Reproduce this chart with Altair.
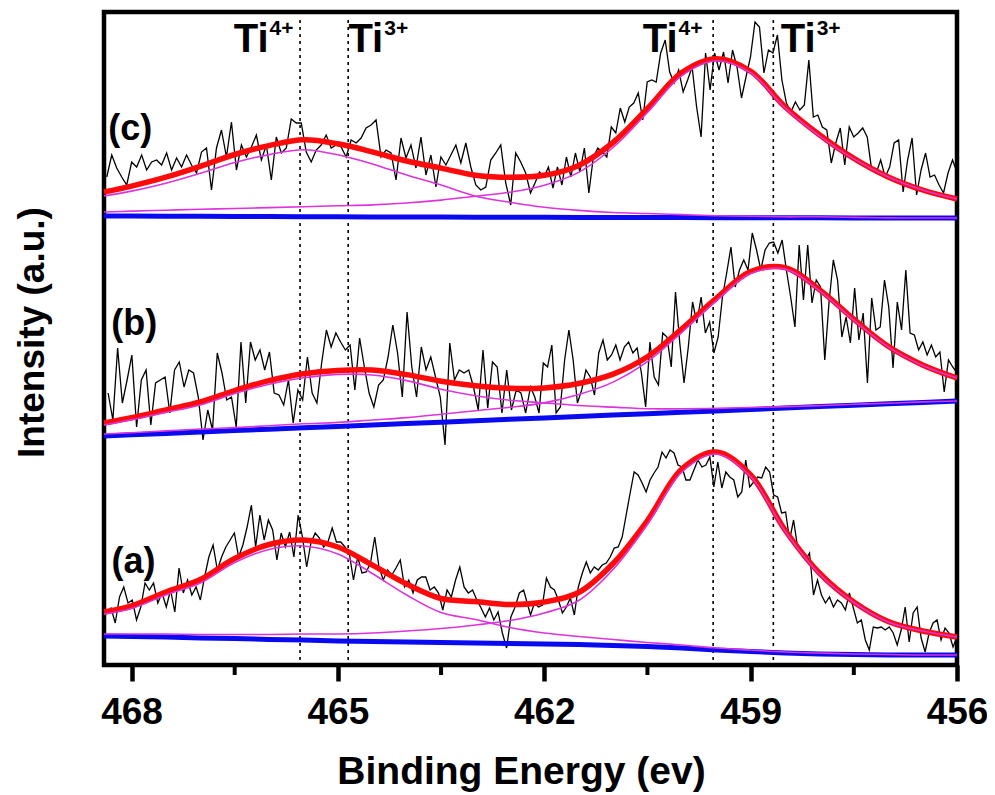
import altair as alt
import numpy as np
import pandas as pd

FONT_NARROW = "Liberation Sans Narrow, Liberation Sans, Arial, sans-serif"
FONT = "Liberation Sans, Arial, sans-serif"

# ---------------- measured spectra (intensity, a.u.) ----------------
# each panel was read in two scan segments: [start eV, end eV] + values
c_left_range = [468.36, 462.27]
c_left = [488, 510, 497, 488, 480, 503, 498, 510, 495, 503,
          505, 500, 512, 495, 507, 498, 510, 500, 492, 513,
          517, 475, 517, 535, 508, 543, 495, 520, 508, 518,
          530, 505, 520, 485, 528, 512, 517, 546, 542, 542,
          513, 503, 515, 520, 530, 517, 520, 518, 508, 525,
          522, 527, 537, 540, 545, 508, 515, 512, 485, 527,
          507, 520, 497, 528, 490, 510, 478, 508, 500, 510,
          520, 502, 522, 498, 480, 475, 478, 505, 512, 520,
          482, 460, 512, 503, 492]
c_right_range = [462.20, 456.0]
c_right = [472, 482, 493, 488, 498, 477, 498, 480, 508, 488,
           512, 493, 517, 472, 508, 517, 513, 508, 538, 532,
           557, 543, 558, 562, 572, 545, 583, 585, 583, 612,
           625, 593, 582, 595, 573, 585, 598, 558, 528, 612,
           575, 612, 595, 613, 582, 615, 598, 567, 588, 608,
           643, 638, 592, 615, 612, 630, 585, 562, 553, 563,
           555, 560, 605, 548, 550, 538, 535, 502, 522, 537,
           500, 538, 528, 532, 537, 528, 495, 492, 505, 488,
           498, 522, 525, 473, 505, 527, 470, 495, 512, 488,
           490, 480, 472, 492, 505, 493]

b_left_range = [468.34, 462.27]
b_left = [272, 245, 317, 262, 285, 310, 238, 285, 295, 240,
          282, 285, 288, 252, 295, 303, 278, 295, 292, 268,
          225, 255, 235, 312, 292, 265, 268, 238, 323, 262,
          323, 305, 315, 295, 313, 272, 270, 260, 285, 242,
          275, 265, 308, 272, 262, 302, 335, 318, 332, 323,
          315, 320, 275, 327, 298, 272, 258, 280, 285, 308,
          340, 312, 268, 353, 298, 268, 318, 295, 308, 288,
          268, 220, 322, 285, 295, 292, 295, 278, 255, 315,
          257, 303, 298, 252, 295, 255, 275, 272, 252]
b_right_range = [462.20, 456.0]
b_right = [278, 268, 252, 302, 298, 320, 252, 258, 305, 335,
           305, 262, 275, 295, 288, 270, 312, 325, 305, 310,
           320, 305, 318, 323, 312, 317, 292, 258, 323, 288,
           280, 332, 328, 298, 373, 322, 282, 318, 363, 342,
           368, 332, 343, 312, 328, 368, 392, 418, 378, 395,
           405, 395, 432, 415, 395, 415, 422, 423, 412, 425,
           395, 368, 338, 420, 365, 420, 362, 385, 378, 305,
           363, 405, 385, 328, 348, 322, 377, 325, 352, 282,
           367, 335, 338, 385, 358, 297, 363, 335, 395, 332,
           330, 315, 323, 310, 320, 308, 313, 273, 305, 298, 292]

a_left_range = [468.36, 462.30]
a_left = [52, 57, 42, 68, 78, 62, 65, 45, 58, 82,
          75, 82, 62, 72, 58, 75, 53, 97, 72, 85,
          70, 78, 65, 88, 108, 120, 95, 108, 118, 125,
          132, 108, 120, 138, 160, 118, 150, 125, 145, 135,
          105, 132, 118, 133, 108, 150, 128, 98, 122, 132,
          127, 118, 123, 137, 123, 123, 118, 112, 85, 108,
          92, 93, 102, 128, 98, 85, 95, 90, 97, 105,
          78, 85, 72, 85, 88, 88, 75, 78, 72, 55,
          75, 68, 85, 98, 78, 72, 75, 65, 57, 48,
          57, 45, 53, 32, 17, 48, 58, 72, 75]
a_right_range = [462.20, 456.0]
a_right = [50, 62, 58, 60, 87, 78, 75, 65, 52, 58,
           67, 50, 78, 92, 103, 92, 98, 95, 100, 102,
           108, 117, 118, 128, 150, 172, 193, 190, 182, 173,
           185, 192, 198, 213, 207, 215, 212, 200, 198, 185,
           185, 195, 205, 198, 200, 208, 178, 203, 177, 193,
           188, 185, 168, 173, 205, 178, 183, 188, 187, 198,
           193, 170, 168, 152, 153, 125, 145, 118, 110, 105,
           112, 70, 85, 70, 62, 68, 58, 65, 62, 55,
           72, 57, 42, 45, 25, 15, 38, 37, 38, 35,
           38, 32, 20, 35, 58, 23, 52, 58, 27, 13,
           32, 42, 45, 25, 37, 32, 18, 28]

# ---------------- fitted curves (read on a common energy grid) ----------------
fit_energy = [468.4, 468.0, 467.5, 467.0, 466.5, 466.0, 465.5, 465.0, 464.5, 464.0,
              463.5, 463.0, 462.5, 462.0, 461.5, 461.0, 460.5, 460.0, 459.5, 459.0,
              458.5, 458.0, 457.5, 457.0, 456.5, 456.0]

a_base = [29, 28.5, 28, 27, 26.5, 25.5, 25, 24, 23.5, 23, 22.5, 22, 21.5, 21, 20.5,
          19.5, 18.5, 17, 15, 13.5, 12, 11, 10.5, 10, 10, 10]
a_peak1 = [22, 28, 42, 55, 76, 90, 94, 87, 68, 47, 30, 23.5, 16, 11, 8, 6, 4, 3, 2,
           1.5, 1, 1, 0.5, 0.5, 0, 0]
a_peak2 = [2, 2.5, 3, 3.5, 4, 5, 6, 7, 8.5, 11, 14, 18, 23, 31, 44, 76, 122, 176, 196,
           175, 122, 80, 52, 33, 24, 18]

b_base = [229.0, 230.2, 231.6, 233.0, 234.4, 235.8, 237.2, 238.6, 240.0, 241.4, 242.8,
          244.3, 245.7, 247.1, 248.5, 249.9, 251.3, 252.7, 254.1, 255.5, 256.9, 258.4,
          259.8, 261.2, 262.6, 264.0]
b_peak1 = [11, 15, 21, 27, 37, 45, 50, 52, 50, 43, 33, 25, 19, 15, 11, 8, 5, 3.5, 2.5,
           2, 1.5, 1, 1, 0.5, 0.5, 0]
b_peak2 = [2, 2, 2.5, 3, 3, 3.5, 4, 4, 5, 6, 8, 10, 12, 15, 22, 33, 52, 80, 110, 136,
           139, 116, 85, 57, 37, 23]

c_base = [449.0, 448.9, 448.8, 448.7, 448.5, 448.4, 448.3, 448.2, 448.1, 448.0, 447.9,
          447.8, 447.7, 447.7, 447.6, 447.5, 447.5, 447.4, 447.3, 447.3, 447.2, 447.2,
          447.1, 447.1, 447.0, 447.0]
c_peak1 = [20, 25, 33, 43, 54, 62, 67, 62, 53, 42, 32, 21, 15, 10, 7, 5, 4, 3, 2, 1.5,
           1, 1, 0.5, 0, 0, 0]
c_peak2 = [4, 5, 6, 7, 8, 9, 10, 11, 12, 14, 17, 21, 25, 32, 45, 70, 105, 142, 157, 145,
           110, 82, 59, 41, 28, 19]

# ---------------- annotations ----------------
ref_lines_ev = [465.55, 464.85, 459.545, 458.67]
minor_ticks_ev = [466.5, 463.5, 460.5, 457.5]
major_ticks_ev = [468, 465, 462, 459, 456]

panel_names = ["(a)", "(b)", "(c)"]
panel_label_ev = [467.97, 467.96, 468.02]
panel_label_y = [92, 330, 525]

ion_anchor_ev = [466.007, 464.341, 460.063, 458.055]
ion_charge = ["4+", "3+", "4+", "3+"]
ion_y = 613
charge_y = 630

# ---------------- build tables ----------------
spec_rows = []
for panel, segs in {"a": [(a_left_range, a_left), (a_right_range, a_right)],
                    "b": [(b_left_range, b_left), (b_right_range, b_right)],
                    "c": [(c_left_range, c_left), (c_right_range, c_right)]}.items():
    for rng, vals in segs:
        grid = np.linspace(rng[0], rng[1], len(vals))
        for e, v in zip(grid, vals):
            spec_rows.append({"panel": panel, "energy": float(e), "intensity": v})
spec_df = pd.DataFrame(spec_rows)

fit_rows = []
for panel, base, p1, p2 in [("a", a_base, a_peak1, a_peak2),
                            ("b", b_base, b_peak1, b_peak2),
                            ("c", c_base, c_peak1, c_peak2)]:
    for e, b, h1, h2 in zip(fit_energy, base, p1, p2):
        fit_rows.append({"key": panel + "base", "series": "baseline", "energy": e, "intensity": b})
        fit_rows.append({"key": panel + "p1", "series": "peak", "energy": e, "intensity": b + h1})
        fit_rows.append({"key": panel + "p2", "series": "peak", "energy": e, "intensity": b + h2})
        fit_rows.append({"key": panel + "env", "series": "envelope", "energy": e, "intensity": b + h1 + h2})
fit_df = pd.DataFrame(fit_rows)

vline_df = pd.DataFrame({"energy": ref_lines_ev, "intensity": [645] * 4, "bottom": [0] * 4})
minor_df = pd.DataFrame({"energy": minor_ticks_ev, "intensity": [0] * 4, "bottom": [-10] * 4})
panel_df = pd.DataFrame({"label": panel_names, "energy": panel_label_ev, "intensity": panel_label_y})
ion_df = pd.DataFrame({"energy": ion_anchor_ev, "ion": ["Ti"] * 4, "charge": ion_charge,
                       "intensity": [ion_y] * 4, "cy": [charge_y] * 4})

# ---------------- encodings ----------------
xscale = alt.Scale(domain=[456, 468.4], reverse=True, nice=False, zero=False)
yscale = alt.Scale(domain=[0, 653], nice=False, zero=False)

xaxis = alt.Axis(values=major_ticks_ev, format="d", tickSize=16, tickWidth=4.5,
                 tickColor="black", domain=False, grid=False, labelFont=FONT_NARROW,
                 labelFontSize=37, labelFontWeight="bold", labelColor="black",
                 labelPadding=13, labelFlush=False, labelOverlap=False,
                 title="Binding Energy (ev)", titleFont=FONT, titleFontSize=39,
                 titleFontWeight="bold", titleColor="black", titleX=417, titleY=118,
                 titleBaseline="alphabetic")
yaxis = alt.Axis(ticks=False, labels=False, domain=False, grid=False,
                 title="Intensity (a.u.)", titleFont=FONT, titleFontSize=37,
                 titleFontWeight="bold", titleColor="black", titleAngle=270,
                 titleX=-61, titleY=320, titleBaseline="alphabetic", titleAlign="center")

X = alt.X("energy:Q", scale=xscale, axis=xaxis, title="Binding Energy (ev)")
Y = alt.Y("intensity:Q", scale=yscale, axis=yaxis, title="Intensity (a.u.)")

vlines = alt.Chart(vline_df).mark_rule(color="black", strokeWidth=1.6, strokeDash=[3, 4]).encode(
    x=X, y=Y, y2="bottom:Q")

data_line = alt.Chart(spec_df).mark_line(color="black", strokeWidth=1.3).encode(
    x=X, y=Y, detail="panel:N")

base_line = alt.Chart(fit_df[fit_df.series == "baseline"]).mark_line(
    color="#0a0af0", strokeWidth=5).encode(x=X, y=Y, detail="key:N")

env_line = alt.Chart(fit_df[fit_df.series == "envelope"]).mark_line(
    color="#ff0a0a", strokeWidth=5.5, interpolate="catmull-rom").encode(x=X, y=Y, detail="key:N")

peak_line = alt.Chart(fit_df[fit_df.series == "peak"]).mark_line(
    color="#dd33dd", strokeWidth=1.6, interpolate="catmull-rom").encode(x=X, y=Y, detail="key:N")

minor = alt.Chart(minor_df).mark_rule(color="black", strokeWidth=4).encode(
    x=X, y=Y, y2="bottom:Q")

panel_text = alt.Chart(panel_df).mark_text(
    font=FONT, fontSize=36, fontWeight="bold", color="black", align="center",
    baseline="alphabetic").encode(x=X, y=Y, text="label:N")

ion_text = alt.Chart(ion_df).mark_text(
    font=FONT_NARROW, fontSize=40, fontWeight="bold", color="black", align="right",
    baseline="alphabetic").encode(x=X, y=Y, text="ion:N")

charge_text = alt.Chart(ion_df).mark_text(
    font=FONT, fontSize=21, fontWeight="bold", color="black", align="left",
    baseline="alphabetic", dx=1).encode(
    x=X, y=alt.Y("cy:Q", scale=yscale, axis=yaxis, title="Intensity (a.u.)"), text="charge:N")

chart = alt.layer(
    vlines, data_line, base_line, env_line, peak_line, minor,
    panel_text, ion_text, charge_text
).properties(
    width=853, height=653,
    autosize=alt.AutoSizeParams(type="none"),
    padding={"left": 96, "top": 4, "right": 30, "bottom": 128},
    background="white",
).configure_view(stroke="black", strokeWidth=4.5)

chart.save("out.html", embed_options={"renderer": "svg", "actions": False})
